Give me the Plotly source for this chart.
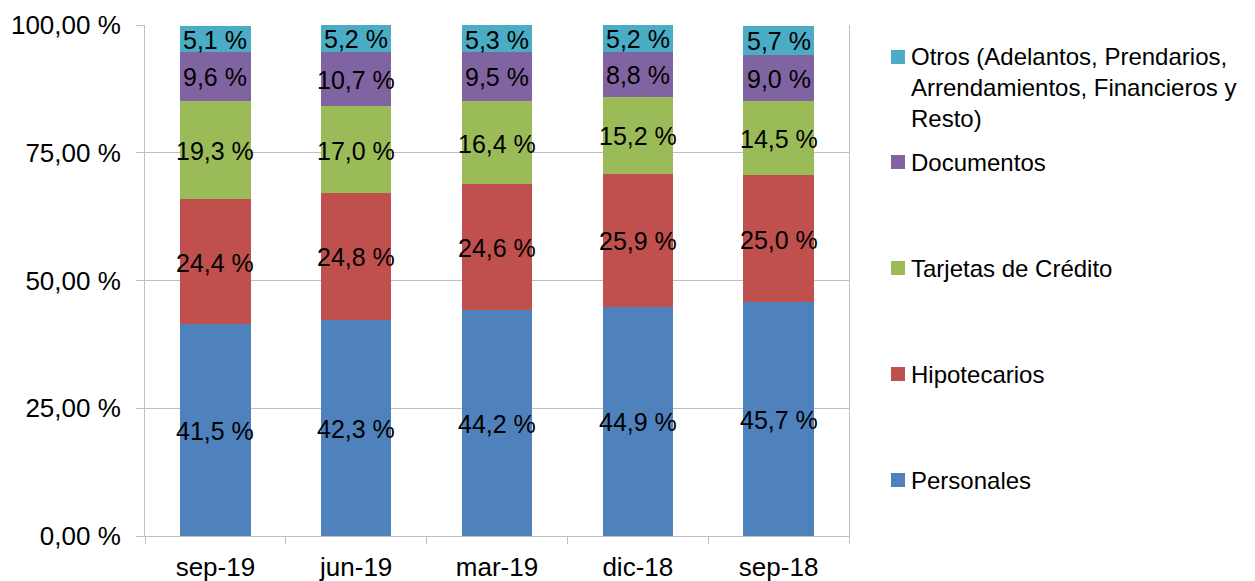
import plotly.graph_objects as go

categories = ["sep-19", "jun-19", "mar-19", "dic-18", "sep-18"]
series_names = [
    "Personales",
    "Hipotecarios",
    "Tarjetas de Crédito",
    "Documentos",
    "Otros (Adelantos, Prendarios,<br>Arrendamientos, Financieros y<br>Resto)",
]
personales = [41.5, 42.3, 44.2, 44.9, 45.7]
hipotecarios = [24.4, 24.8, 24.6, 25.9, 25.0]
tarjetas = [19.3, 17.0, 16.4, 15.2, 14.5]
documentos = [9.6, 10.7, 9.5, 8.8, 9.0]
otros = [5.1, 5.2, 5.3, 5.2, 5.7]
series_values = [personales, hipotecarios, tarjetas, documentos, otros]
colors = ["#4F81BD", "#C0504D", "#9BBB59", "#8064A2", "#4BACC6"]
y_tickvals = [0, 25, 50, 75, 100]
y_ticktext = ["0,00 %", "25,00 %", "50,00 %", "75,00 %", "100,00 %"]

FONT = "Liberation Sans, Arial, sans-serif"
GRID = "#BFBFBF"

# page body has an 8px default margin: figure sized/offset to compensate
OFF = 8
W, H = 1255 - OFF, 581 - OFF

fig = go.Figure()
for name, vals, col in zip(series_names, series_values, colors):
    fig.add_trace(go.Bar(x=categories, y=vals, name=name, marker=dict(color=col, line=dict(width=0)),
                         showlegend=False, hoverinfo="skip"))

# data labels at segment centres
base = [0.0] * len(categories)
for vals in series_values:
    for i, v in enumerate(vals):
        fig.add_annotation(x=categories[i], y=base[i] + v / 2, xref="x", yref="y",
                           text=f"{v:.1f}".replace(".", ",") + " %", showarrow=False,
                           xanchor="center", yanchor="middle", yshift=-1,
                           font=dict(family=FONT, size=25, color="#000000"))
        base[i] += v

# legend built manually (paper coords relative to plot area; page pixel coords)
x0, x1 = 145, 849
y0, y1 = 536, 25
def px(x):
    return (x - x0) / (x1 - x0)
def py(y):
    return (y0 - y) / (y0 - y1)

legend_centers = [480, 374, 268, 162, 57]
text_centers = [480, 374, 268, 162, 87]
for name, col, mc, tc in zip(series_names, colors, legend_centers, text_centers):
    fig.add_shape(type="rect", xref="paper", yref="paper",
                  x0=px(891), x1=px(905), y0=py(mc + 7), y1=py(mc - 7),
                  fillcolor=col, line=dict(width=0))
    fig.add_annotation(xref="paper", yref="paper", x=px(909), y=py(tc), text=name,
                       showarrow=False, xanchor="left", yanchor="middle", align="left",
                       font=dict(family=FONT, size=24, color="#000000"))

fig.update_layout(
    width=W, height=H,
    margin=dict(l=x0 - OFF, r=W - (x1 - OFF), t=y1 - OFF, b=H - (y0 - OFF), autoexpand=False),
    barmode="stack", bargap=0.5,
    plot_bgcolor="white", paper_bgcolor="white",
    font=dict(family=FONT, size=26, color="#000000"),
)
fig.update_xaxes(showgrid=False, showline=True, linecolor=GRID, linewidth=1, automargin=False,
                 ticks="outside", tickson="boundaries", ticklen=7, tickcolor=GRID,
                 tickfont=dict(family=FONT, size=26, color="#000000"), ticklabelstandoff=8)
fig.update_yaxes(range=[0, 100], tickvals=y_tickvals, ticktext=y_ticktext, automargin=False,
                 showgrid=True, gridcolor=GRID, gridwidth=1,
                 showline=True, mirror=True, linecolor=GRID, linewidth=1,
                 ticks="outside", ticklen=8, tickcolor=GRID, zeroline=False,
                 tickfont=dict(family=FONT, size=26, color="#000000"), ticklabelstandoff=10)

fig.write_html("out.html")
